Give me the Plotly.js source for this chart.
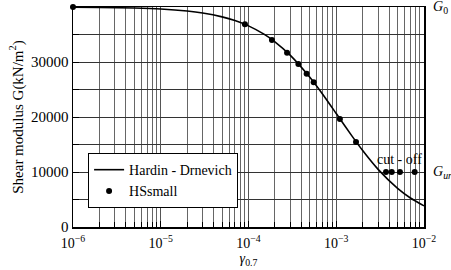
<!DOCTYPE html>
<html>
<head>
<meta charset="utf-8">
<script src="https://cdn.plot.ly/plotly-3.0.1.min.js"></script>
<style>
html,body{margin:0;padding:0;background:#fff;}
#chart{width:451px;height:270px;}
#chart text, #chart tspan{font-family:'Liberation Serif','Times New Roman',serif !important;}
</style>
</head>
<body>
<div id="chart"></div>
<script>
// Hardin-Drnevich curve
var curveStrain = [1e-6, 2e-6, 5e-6, 1e-5, 2e-5, 3e-5, 5e-5, 7e-5, 1e-4, 1.5e-4, 2e-4, 3e-4, 5e-4, 7e-4, 1e-3, 1.5e-3, 2e-3, 3e-3, 5e-3, 7e-3, 1e-2];
var curveG = [39960, 39920, 39810, 39630, 39260, 38900, 38200, 37530, 36570, 35060, 33680, 31210, 27220, 24140, 20630, 16610, 13900, 10480, 7020, 5280, 3850];

// HSsmall points
var hsStrain = [1e-6, 9.1e-5, 1.85e-4, 2.75e-4, 3.7e-4, 4.6e-4, 5.53e-4, 1.1e-3, 1.68e-3, 3.69e-3, 4.29e-3, 5.32e-3, 7.83e-3];
var hsG = [40000, 36860, 34000, 31700, 29630, 27870, 26300, 19640, 15450, 10000, 10000, 10000, 10000];

var xTickVals = [1e-6, 1e-5, 1e-4, 1e-3, 1e-2];
var xTickText = ['10<sup>−6</sup>', '10<sup>−5</sup>', '10<sup>−4</sup>', '10<sup>−3</sup>', '10<sup>−2</sup>'];
var yTickVals = [0, 10000, 20000, 30000, 40000];
var yTickText = ['0', '10000', '20000', '30000', '40000'];

var minorX = [];
for (var e = -6; e < -2; e++) {
  for (var d = 2; d <= 9; d++) minorX.push(d * Math.pow(10, e));
}

var serif = 'Liberation Serif';

var traces = [
  {x: curveStrain, y: curveG, type: 'scatter', mode: 'lines', name: 'Hardin - Drnevich',
   line: {color: '#000', width: 1.6, shape: 'spline', smoothing: 0.6}},
  {x: hsStrain, y: hsG, type: 'scatter', mode: 'markers', name: 'HSsmall',
   marker: {color: '#000', size: 6, symbol: 'circle'}, cliponaxis: false}
];

var layout = {
  width: 451, height: 270,
  margin: {l: 73, r: 27, t: 7, b: 43},
  paper_bgcolor: '#fff', plot_bgcolor: '#fff',
  font: {family: serif, size: 14, color: '#000'},
  showlegend: true,
  legend: {x: 0.043, y: 0.336, xanchor: 'left', yanchor: 'top', bgcolor: '#fff',
           bordercolor: '#000', borderwidth: 1, font: {family: serif, size: 14, color: '#000'},
           tracegroupgap: 0, itemwidth: 30},
  xaxis: {
    type: 'log', range: [-6, -2],
    tickvals: xTickVals, ticktext: xTickText,
    ticks: 'inside', ticklen: 6, tickcolor: '#000',
    ticklabelstandoff: 3,
    showgrid: true, gridcolor: '#555', gridwidth: 1,
    showline: true, linecolor: '#000', linewidth: 1.5, mirror: true,
    zeroline: false,
    tickfont: {family: serif, size: 14, color: '#000'},
    minor: {tickvals: minorX, ticks: 'inside', ticklen: 5, tickcolor: '#000',
            showgrid: true, gridcolor: '#666', gridwidth: 1},
    title: {text: '<i>γ</i><sub>0.7</sub>', font: {family: serif, size: 14, color: '#000'}, standoff: 0}
  },
  yaxis: {
    range: [0, 40000],
    tickvals: yTickVals, ticktext: yTickText,
    ticks: 'inside', ticklen: 6, tickcolor: '#000',
    showgrid: true, gridcolor: '#333', gridwidth: 1,
    showline: true, linecolor: '#000', linewidth: 1.5, mirror: true,
    zeroline: false,
    tickfont: {family: serif, size: 15, color: '#000'},
    minor: {dtick: 5000, ticks: 'inside', ticklen: 6, tickcolor: '#000',
            showgrid: true, gridcolor: '#333', gridwidth: 1},
    title: {text: 'Shear modulus G(kN/m<sup>2</sup>)', font: {family: serif, size: 15, color: '#000'}, standoff: 4}
  },
  annotations: [
    {xref: 'paper', yref: 'y', x: 1.02, y: 40000, text: '<i>G</i><sub>0</sub>', showarrow: false,
     xanchor: 'left', yanchor: 'middle', font: {family: serif, size: 14, color: '#000'}},
    {xref: 'paper', yref: 'y', x: 1.02, y: 10000, text: '<i>G</i><sub><i>ur</i></sub>', showarrow: false,
     xanchor: 'left', yanchor: 'middle', font: {family: serif, size: 14, color: '#000'}},
    {xref: 'x', yref: 'y', x: Math.log10(5.3e-3), y: 12300, text: 'cut - off', showarrow: false,
     xanchor: 'center', yanchor: 'middle', font: {family: serif, size: 14, color: '#000'}}
  ]
};

Plotly.newPlot('chart', traces, layout, {displayModeBar: false, staticPlot: true});
</script>
</body>
</html>
